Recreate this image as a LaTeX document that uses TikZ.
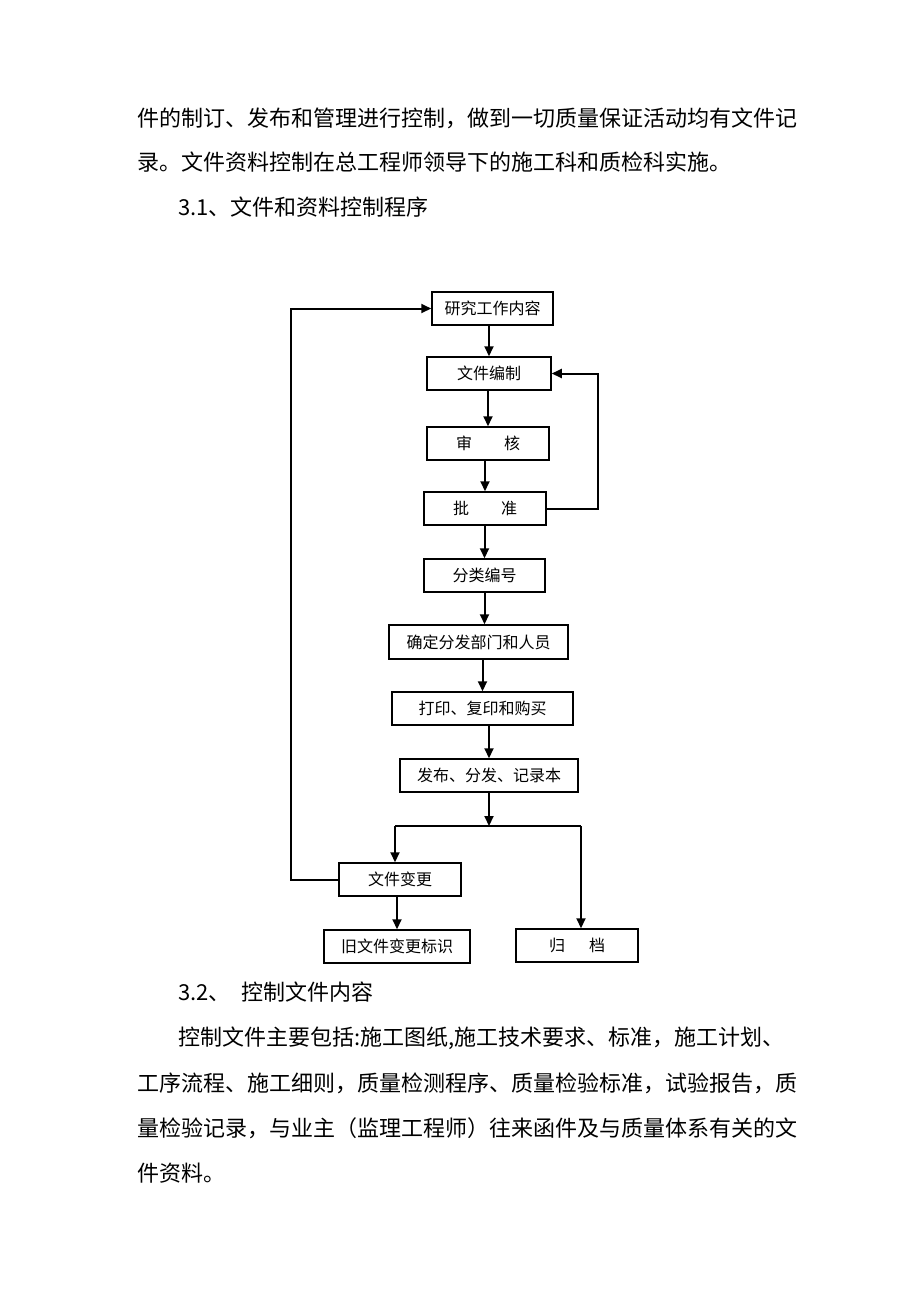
\documentclass[tikz,border=0pt]{standalone}
\usepackage{fontspec}
\setmainfont{Noto Sans CJK SC}
\usetikzlibrary{arrows.meta}
\begin{document}
\begin{tikzpicture}[x=1pt,y=-1pt,
  box/.style={draw, line width=1.5pt, minimum height=33pt, inner sep=0pt, font=\fontsize{16}{16}\selectfont},
  para/.style={anchor=base west, inner sep=0pt, font=\fontsize{22}{22}\selectfont},
  arr/.style={line width=2pt, -{Triangle[length=10pt,width=9pt]}},
  ln/.style={line width=2pt}]
\useasboundingbox[fill=white] (0,0) rectangle (920,1302);

% paragraph text
\node[para] (p1) at (137,126) {件的制订、发布和管理进行控制，做到一切质量保证活动均有文件记};
\node[para] (p2) at (137,170) {录。文件资料控制在总工程师领导下的施工科和质检科实施。};
\node[para] (p3) at (178,215) {3.1、文件和资料控制程序};

% boxes
\node[box, minimum width=121pt] (r1) at (492.5,308.5) {研究工作内容};
\node[box, minimum width=124pt] (r2) at (489,373.5) {文件编制};
\node[box, minimum width=122pt] (r3) at (488,443.5) {审\hspace{2em}核};
\node[box, minimum width=122pt] (r4) at (485,508.5) {批\hspace{2em}准};
\node[box, minimum width=121pt] (r5) at (484.5,575.5) {分类编号};
\node[box, minimum width=179pt, minimum height=34pt] (r6) at (478.5,642) {确定分发部门和人员};
\node[box, minimum width=181pt] (r7) at (482.5,708.5) {打印、复印和购买};
\node[box, minimum width=178pt] (r8) at (489,775.5) {发布、分发、记录本};
\node[box, minimum width=122pt] (r9) at (400,879.5) {文件变更};
\node[box, minimum width=146pt] (r10) at (397,946.5) {旧文件变更标识};
\node[box, minimum width=122pt] (r11) at (577,945.5) {归\hspace{1.5em}档};

% vertical arrows
\draw[arr] (r1.south -| r2.north) -- (r2.north);
\draw[arr] (r2.south -| r3.north) -- (r3.north);
\draw[arr] (r3.south -| r4.north) -- (r4.north);
\draw[arr] (r4.south -| r5.north) -- (r5.north);
\draw[arr] (r5.south) -- (r5.south |- r6.north);
\draw[arr] (r6.south -| r7.north) -- (r7.north);
\draw[arr] (r7.south -| r8.north) -- (r8.north);

% branch
\coordinate (j) at (489,826);
\coordinate (jl) at (395,826);
\coordinate (jr) at (581,826);
\draw[arr] (r8.south) -- (j);
\draw[ln] (jl) -- (jr);
\draw[arr] (jl) -- (jl |- r9.north);
\draw[arr] (jr) -- (jr |- r11.north);
\draw[arr] (r9.south -| r10.north) -- (r10.north);

% feedback loops
\draw[arr] (r9.west) -- ++(-47,0) |- (r1.west);
\draw[arr] (r4.east) -- ++(51,0) |- (r2.east);

% lower text
\node[para] (p4) at (178,1000) {3.2、\hspace{0.5em}控制文件内容};
\node[para] (p5) at (178,1045) {控制文件主要包括:施工图纸,施工技术要求、标准，施工计划、};
\node[para] (p6) at (137,1091) {工序流程、施工细则，质量检测程序、质量检验标准，试验报告，质};
\node[para] (p7) at (137,1136) {量检验记录，与业主（监理工程师）往来函件及与质量体系有关的文};
\node[para] (p8) at (137,1181) {件资料。};
\end{tikzpicture}
\end{document}
